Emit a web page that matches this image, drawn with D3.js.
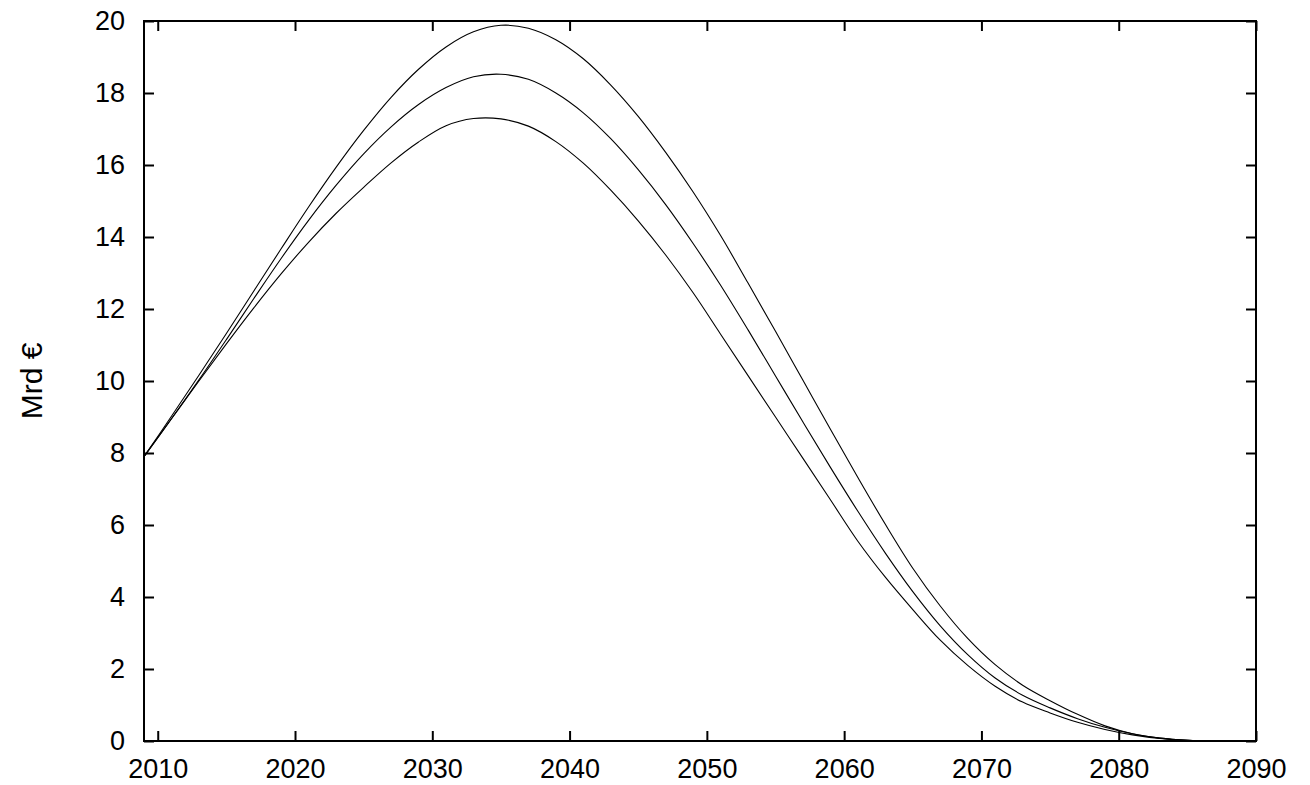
<!DOCTYPE html>
<html>
<head>
<meta charset="utf-8">
<script src="https://cdn.jsdelivr.net/npm/d3@7"></script>
<style>
  html, body { margin: 0; padding: 0; background: #fff; }
  text { font-family: "Liberation Sans", Arial, sans-serif; fill: #000; }
</style>
</head>
<body>
<div id="chart"></div>
<script>
/* data */
var years = [2009, 2011, 2013, 2015, 2017, 2019, 2021, 2023, 2025, 2027, 2029,
             2031, 2033, 2035, 2037, 2039, 2041, 2043, 2045, 2047, 2049,
             2051, 2053, 2055, 2057, 2059, 2061, 2063, 2065, 2067, 2069,
             2071, 2073, 2075, 2077, 2079, 2081, 2083, 2085, 2087, 2090];

var upper = [7.9, 9.02, 10.16, 11.32, 12.5, 13.68, 14.84, 15.94, 16.96, 17.88, 18.66,
             19.28, 19.7, 19.88, 19.8, 19.48, 18.95, 18.22, 17.35, 16.35, 15.25,
             14.04, 12.72, 11.38, 10.02, 8.66, 7.32, 6.02, 4.8, 3.75, 2.85,
             2.12, 1.55, 1.12, 0.74, 0.42, 0.2, 0.08, 0.02, 0, 0];

var middle = [7.9, 8.95, 10.03, 11.15, 12.29, 13.41, 14.47, 15.44, 16.31, 17.06, 17.68,
              18.15, 18.45, 18.52, 18.38, 18.0, 17.45, 16.73, 15.87, 14.9, 13.82,
              12.66, 11.42, 10.14, 8.86, 7.6, 6.38, 5.22, 4.15, 3.2, 2.4,
              1.75, 1.27, 0.92, 0.62, 0.38, 0.2, 0.08, 0.02, 0, 0];

var lower = [7.9, 8.95, 10.0, 11.03, 12.03, 12.98, 13.86, 14.66, 15.38, 16.06, 16.64,
             17.09, 17.29, 17.28, 17.08, 16.65, 16.05, 15.3, 14.45, 13.5, 12.45,
             11.3, 10.15, 9.0, 7.85, 6.7, 5.55, 4.55, 3.65, 2.8, 2.1,
             1.52, 1.08, 0.78, 0.52, 0.32, 0.17, 0.07, 0.02, 0, 0];

var xTicks = [2010, 2020, 2030, 2040, 2050, 2060, 2070, 2080, 2090];
var yTicks = [0, 2, 4, 6, 8, 10, 12, 14, 16, 18, 20];
var yLabel = "Mrd €";

/* setup */
var iWidth = 1310, iHeight = 785;
var margin = {top: 21, right: 54, bottom: 44, left: 144},
    w = iWidth - margin.left - margin.right,
    h = iHeight - margin.top - margin.bottom,
    tickLen = 10,
    fontSize = 27;

var x = d3.scaleLinear().domain([2009, 2090]).range([0, w]);
var y = d3.scaleLinear().domain([0, 20]).range([h, 0]);

var svg = d3.select('#chart').append('svg')
    .attr('width', iWidth)
    .attr('height', iHeight)
  .append('g')
    .attr('transform', 'translate(' + margin.left + ',' + margin.top + ')');

// curves
var line = d3.line()
    .x(function (d) { return x(d[0]); })
    .y(function (d) { return y(Math.max(0, d[1])); })
    .curve(d3.curveCatmullRom.alpha(0.5));

[upper, middle, lower].forEach(function (vals) {
    svg.append('path')
        .datum(years.map(function (yr, i) { return [yr, vals[i]]; }))
        .attr('d', line)
        .attr('fill', 'none')
        .attr('stroke', '#000')
        .attr('stroke-width', 1.1);
});

// axes: inward ticks, mirrored on top and right
function styleAxis(g) {
    g.select('.domain').remove();
    g.selectAll('.tick line').attr('stroke', '#000').attr('stroke-width', 2);
    g.selectAll('.tick text')
        .style('font-size', fontSize + 'px')
        .style('font-family', '"Liberation Sans", Arial, sans-serif');
}

svg.append('g')
    .attr('transform', 'translate(0,' + h + ')')
    .call(d3.axisBottom(x).tickValues(xTicks).tickFormat(d3.format('d'))
        .tickSizeInner(-tickLen).tickSizeOuter(0).tickPadding(18))
    .call(styleAxis);

svg.append('g')
    .call(d3.axisLeft(y).tickValues(yTicks)
        .tickSizeInner(-tickLen).tickSizeOuter(0).tickPadding(19))
    .call(styleAxis);

svg.append('g')
    .call(d3.axisTop(x).tickValues(xTicks).tickFormat('')
        .tickSizeInner(-tickLen).tickSizeOuter(0))
    .call(styleAxis);

svg.append('g')
    .attr('transform', 'translate(' + w + ',0)')
    .call(d3.axisRight(y).tickValues(yTicks).tickFormat('')
        .tickSizeInner(-tickLen).tickSizeOuter(0))
    .call(styleAxis);

// frame
svg.append('rect')
    .attr('width', w)
    .attr('height', h)
    .attr('fill', 'none')
    .attr('stroke', '#000')
    .attr('stroke-width', 2);

// y label
svg.append('text')
    .attr('transform', 'translate(' + (31 - margin.left) + ',' + (381 - margin.top) + ') rotate(-90)')
    .attr('text-anchor', 'middle')
    .attr('dy', '0.35em')
    .style('font-size', '30px')
    .text(yLabel);
</script>
</body>
</html>
